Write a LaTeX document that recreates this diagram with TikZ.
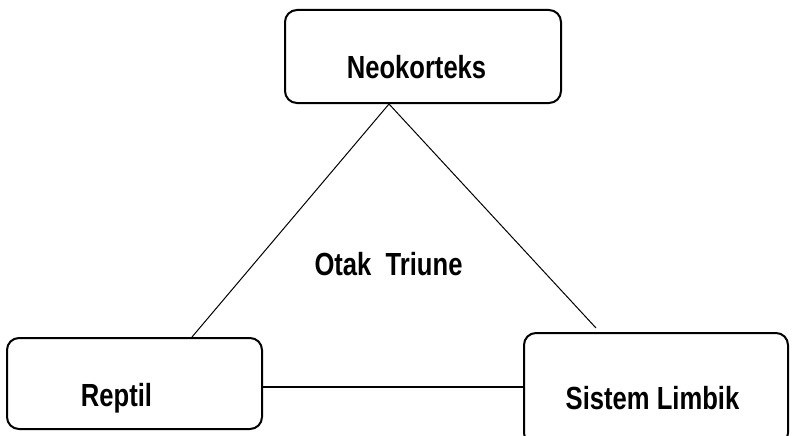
\documentclass[tikz,border=0pt]{standalone}
\usepackage{fontspec}
\setmainfont{Liberation Sans}
\newcommand\narrowtext[1]{\scalebox{0.8}[1]{#1}}
\begin{document}
\begin{tikzpicture}[x=1pt,y=-1pt,
  box/.style={draw, line width=2pt, rounded corners=12pt, inner sep=0pt},
  lbl/.style={anchor=base, inner sep=0pt, font=\bfseries\fontsize{32}{32}\selectfont},
  link/.style={line width=1pt},
  baselink/.style={line width=1.7pt}]
  \useasboundingbox (0,0) rectangle (792,436);
  \clip (0,0) rectangle (792,436);

  % the three parts of the brain
  \node[box, minimum width=276pt, minimum height=93pt] (neo) at (423,56.5) {};
  \node[box, minimum width=255pt, minimum height=91pt] (rep) at (134.5,383.5) {};
  \node[box, minimum width=264pt, minimum height=112pt] (lim) at (656,389) {};

  \node[lbl] (neot) at (416.5,78) {\narrowtext{Neokorteks}};
  \node[lbl] (rept) at (116.5,406) {\narrowtext{Reptil}};
  \node[lbl] (limt) at (652.5,409) {\narrowtext{Sistem Limbik}};
  \node[lbl] (title) at (388.5,275) {\narrowtext{Otak\ \ Triune}};

  % connectors
  \coordinate (apex) at (neo.south west -| 389,0);
  \coordinate (repend) at (rep.north west -| 192,0);
  \coordinate (limend) at (596,328);
  \draw[link] (apex) -- (repend);
  \draw[link] (apex) -- (limend);
  \draw[baselink] (rep.east |- 0,387) -- (lim.west |- 0,387);
\end{tikzpicture}
\end{document}
